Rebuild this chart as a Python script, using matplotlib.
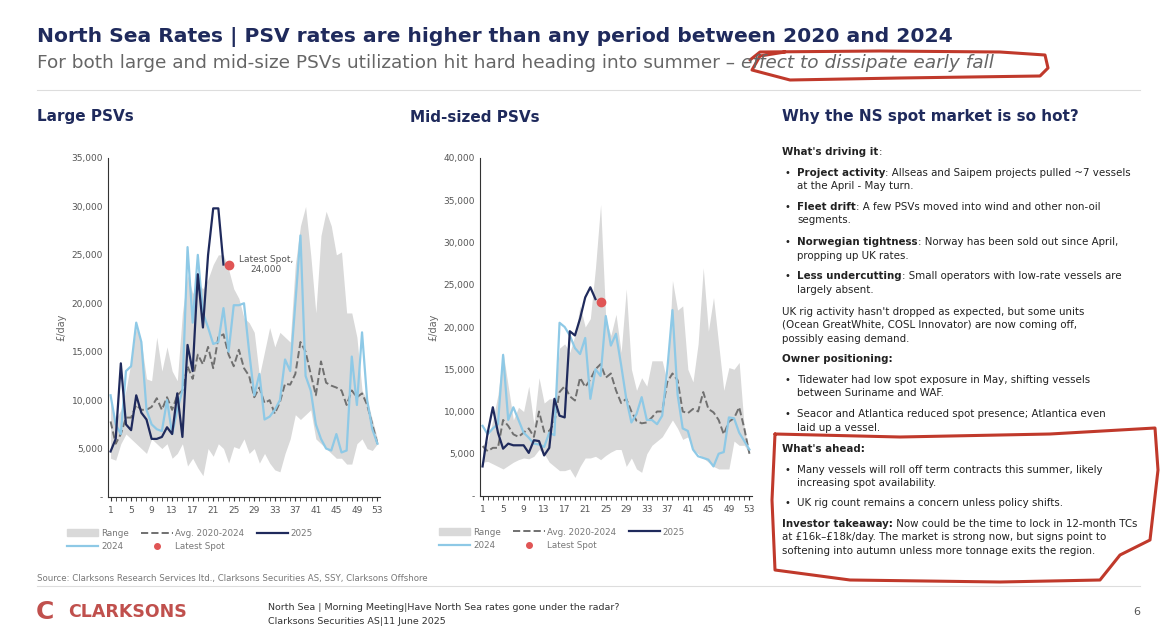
import numpy as np
import matplotlib.pyplot as plt
from matplotlib.lines import Line2D
from matplotlib.patches import Patch

W, H = 1166, 634
NAVY = '#1f2a5c'
LIGHT = '#8ec9e6'
GREY = '#d9d9d9'
RED = '#e05555'
FONT = 'DejaVu Sans'
weeks = np.arange(1, 54)

# Large PSVs
large_high = [10000, 8000, 9000, 11000, 14000, 17500, 16000, 12200, 12000, 16500, 13000, 15500, 13000, 12000,
              19000, 23000, 21000, 22000, 21500, 22500, 24000, 25000, 25000, 23500, 21500, 20500, 18500, 18000,
              17000, 12500, 15000, 17500, 15500, 17000, 16500, 16000, 24000, 28000, 30000, 25000, 19000, 27000,
              29500, 28000, 25000, 25300, 19000, 19000, 16500, 11000, 10000, 8000, 6000]
large_low = [4000, 3800, 5500, 6500, 6000, 5500, 5000, 4500, 6000, 5500, 5000, 5500, 4000, 4500, 5500, 3200,
             4000, 3000, 2200, 5000, 4200, 5500, 5000, 3500, 5200, 5000, 6000, 4500, 5000, 3500, 4500, 3500,
             2800, 2600, 4500, 6000, 8500, 8000, 8500, 9000, 6000, 5500, 5000, 4500, 4000, 4000, 3400, 3400,
             5500, 6000, 5000, 4800, 5500]
large_avg = [7800, 5500, 6500, 8200, 8200, 9500, 9000, 9000, 9300, 10200, 9000, 10300, 9000, 10500, 11000,
             13500, 12200, 14700, 13700, 15500, 13300, 16500, 16800, 14700, 13500, 15200, 13300, 12500, 10300,
             11300, 9700, 10000, 8600, 9800, 11700, 11600, 12700, 16000, 15000, 12700, 10500, 14000, 11800,
             11500, 11300, 11000, 9500, 11000, 10300, 10700, 9500, 7500, 5500]
large_2024 = [10500, 7500, 6500, 13000, 13500, 18000, 16000, 9000, 7500, 7000, 6800, 10000, 6500, 9000, 11000,
              25800, 18000, 25000, 19000, 17500, 15800, 16000, 19500, 15000, 19800, 19800, 20000, 15000, 10500,
              12700, 8000, 8300, 9000, 10000, 14200, 13000, 20000, 27000, 12500, 11000, 7500, 6000, 5000, 4800,
              6500, 4600, 4800, 14500, 9500, 17000, 10000, 7000, 5500]
large_2025 = [4700, 6000, 13800, 7500, 6900, 10500, 8700, 8000, 6000, 6000, 6200, 7200, 6500, 10700, 6200,
              15700, 13000, 23000, 17500, 25000, 29800, 29800, 24000]
large_spot = (24, 24000)

# Mid-sized PSVs
mid_high = [6000, 6500, 9000, 12000, 17000, 13000, 9000, 10500, 10000, 13000, 8500, 14000, 11000, 11500, 11500,
            17500, 18000, 17000, 19000, 22500, 20000, 21000, 27000, 34500, 21000, 19000, 21500, 17000, 24500,
            15000, 12500, 14000, 13000, 16000, 16000, 16000, 13500, 25500, 22000, 22500, 15000, 13500, 18000,
            27000, 19500, 23500, 18000, 12500, 15200, 15000, 15800, 8000, 5000]
mid_low = [4000, 4100, 3800, 3500, 3200, 3600, 4000, 4300, 4500, 4400, 4700, 5500, 5000, 4000, 3500, 3000, 3000,
           3200, 2200, 3500, 4500, 4500, 4700, 4300, 4800, 5200, 5500, 5500, 3500, 4500, 3200, 2800, 5000, 6000,
           6500, 7000, 8000, 9000, 8000, 6700, 7000, 5500, 5000, 4500, 4000, 3500, 3200, 3200, 3200, 6500, 6000,
           6000, 5000]
mid_avg = [5900, 5300, 5700, 5700, 9000, 8300, 7300, 7000, 7500, 8000, 7000, 10000, 7600, 7700, 8700, 12300,
           13000, 11800, 11300, 14000, 12900, 13800, 15000, 15600, 14000, 14500, 12500, 11000, 11500, 10000, 8900,
           8600, 8700, 9300, 10000, 10000, 13500, 14500, 13700, 10000, 9800, 10300, 10000, 12300, 10300, 9900,
           9000, 7300, 8800, 9200, 10500, 8000, 5000]
mid_2024 = [8300, 7300, 8000, 8500, 16700, 9000, 10500, 9000, 7500, 6900, 6200, 6100, 5800, 7500, 7200, 20500,
            20000, 19000, 17500, 16800, 18700, 11500, 15000, 14200, 21300, 17800, 19200, 15500, 11500, 8700, 9700,
            11700, 9000, 9000, 8500, 9500, 15000, 22000, 12000, 8000, 7700, 5500, 4700, 4500, 4300, 3500, 5000,
            5200, 9300, 9200, 7500, 6500, 5500]
mid_2025 = [3500, 7500, 10500, 7500, 5600, 6200, 6000, 6000, 6000, 5100, 6600, 6500, 4800, 5700, 11500, 9500,
            9300, 19500, 19000, 21000, 23500, 24700, 23300]
mid_spot = (24, 23000)


def fx(x):
    return x / W


def fy(y):
    return 1 - y / H


def fmt(v, _):
    return '-' if v == 0 else f'{int(v):,}'


def draw_chart(rect, high, low, avg, y24, y25, spot, ymax, label=None):
    x0, y0, x1, y1 = rect
    ax = fig.add_axes([fx(x0), fy(y1), fx(x1 - x0), (y1 - y0) / H])
    ax.fill_between(weeks, low, high, color=GREY, lw=0)
    ax.plot(weeks, avg, color='#707070', ls='--', lw=1.4)
    ax.plot(weeks, y24, color=LIGHT, lw=1.6)
    ax.plot(weeks[:len(y25)], y25, color=NAVY, lw=1.6)
    ax.plot(*spot, 'o', color=RED, ms=6)
    if label:
        ax.annotate(label, spot, xytext=(27, 0), textcoords='offset points', ha='center', va='center',
                    fontsize=6.5, color='#555555', family=FONT)
    ax.set_xlim(0.5, 53.5)
    ax.set_ylim(0, ymax)
    ax.set_yticks(np.arange(0, ymax + 1, 5000))
    ax.yaxis.set_major_formatter(fmt)
    ax.set_xticks(np.arange(1, 54, 4))
    ax.set_xticks(weeks, minor=True)
    for s in ['top', 'right']:
        ax.spines[s].set_visible(False)
    for s in ['left', 'bottom']:
        ax.spines[s].set_color('#333333')
    ax.tick_params(axis='both', labelsize=6.5, colors='#555555', length=3)
    ax.tick_params(axis='x', which='minor', length=3, color='#333333')
    ax.tick_params(axis='x', which='major', color='#333333')
    ax.tick_params(axis='y', length=0)
    ax.set_ylabel('£/day', fontsize=7, color='#666666')
    range_h = Patch(color=GREY)
    avg_h = Line2D([], [], color='#707070', ls='--', lw=1.4)
    h25 = Line2D([], [], color=NAVY, lw=1.6)
    h24 = Line2D([], [], color=LIGHT, lw=1.6)
    spot_h = Line2D([], [], marker='o', color=RED, ls='', ms=4)
    # column-major order so rows read: Range, Avg, 2025 / 2024, Latest Spot
    handles = [range_h, h24, avg_h, spot_h, h25]
    labels = ['Range', '2024', 'Avg. 2020-2024', 'Latest Spot', '2025']
    ax.legend(handles, labels, ncol=3, loc='upper left', bbox_to_anchor=(-0.18, -0.07), frameon=False,
              fontsize=6.3, labelcolor='#777777', handlelength=3.6, columnspacing=1.4, handletextpad=0.3)
    return ax


plt.rcParams['font.family'] = FONT
fig = plt.figure(figsize=(W / 100, H / 100), dpi=100)
fig.patch.set_facecolor('white')
r = fig.canvas.get_renderer()

fig.text(fx(37), fy(37), 'North Sea Rates | PSV rates are higher than any period between 2020 and 2024',
         fontsize=14.6, weight='bold', color=NAVY, va='center')
sub = fig.text(fx(37), fy(63), 'For both large and mid-size PSVs utilization hit hard heading into summer – ',
               fontsize=13.3, color='#666666', va='center')
bb = sub.get_window_extent(r)
fig.text(bb.x1 / W, fy(63), 'effect to dissipate early fall', fontsize=13.3, color='#666666', va='center',
         style='italic')
fig.add_artist(Line2D([fx(37), fx(1140)], [fy(90), fy(90)], color='#dddddd', lw=0.8))
for x, t in [(37, 'Large PSVs'), (410, 'Mid-sized PSVs'), (782, 'Why the NS spot market is so hot?')]:
    fig.text(fx(x), fy(117), t, fontsize=11, weight='bold', color=NAVY, va='center')

draw_chart((108, 158, 380, 497), large_high, large_low, large_avg, large_2024, large_2025, large_spot, 35000,
           'Latest Spot,\n24,000')
draw_chart((480, 158, 752, 496), mid_high, mid_low, mid_avg, mid_2024, mid_2025, mid_spot, 40000)


def put(x, y, segs, size=7.35):
    for txt, bold in segs:
        t = fig.text(x / W, fy(y), txt, fontsize=size, weight='bold' if bold else 'normal', color='#222222',
                     va='center')
        x = t.get_window_extent(r).x1


lines = [
    (782, 152, [("What's driving it", True), (':', False)]),
    (797, 173, [('Project activity', True), (': Allseas and Saipem projects pulled ~7 vessels', False)]),
    (797, 186, [('at the April - May turn.', False)]),
    (797, 207, [('Fleet drift', True), (': A few PSVs moved into wind and other non-oil', False)]),
    (797, 220, [('segments.', False)]),
    (797, 242, [('Norwegian tightness', True), (': Norway has been sold out since April,', False)]),
    (797, 256, [('propping up UK rates.', False)]),
    (797, 276, [('Less undercutting', True), (': Small operators with low-rate vessels are', False)]),
    (797, 290, [('largely absent.', False)]),
    (782, 312, [("UK rig activity hasn't dropped as expected, but some units", False)]),
    (782, 325, [('(Ocean GreatWhite, COSL Innovator) are now coming off,', False)]),
    (782, 339, [('possibly easing demand.', False)]),
    (782, 359, [('Owner positioning:', True)]),
    (797, 380, [('Tidewater had low spot exposure in May, shifting vessels', False)]),
    (797, 393, [('between Suriname and WAF.', False)]),
    (797, 414, [('Seacor and Atlantica reduced spot presence; Atlantica even', False)]),
    (797, 428, [('laid up a vessel.', False)]),
    (782, 449, [("What's ahead:", True)]),
    (797, 470, [('Many vessels will roll off term contracts this summer, likely', False)]),
    (797, 483, [('increasing spot availability.', False)]),
    (797, 503, [('UK rig count remains a concern unless policy shifts.', False)]),
    (782, 524, [('Investor takeaway:', True), (' Now could be the time to lock in 12-month TCs', False)]),
    (782, 537, [('at £16k–£18k/day. The market is strong now, but signs point to', False)]),
    (782, 551, [('softening into autumn unless more tonnage exits the region.', False)]),
]
for x, y, segs in lines:
    put(x, y, segs)
for y in [173, 207, 242, 276, 380, 414, 470, 503]:
    fig.text(fx(784), fy(y), '•', fontsize=7, color='#222222', va='center')

# hand-drawn red marks
red_kw = dict(color='#c0392b', lw=2.2, solid_capstyle='round')
loop_x = [785, 760, 752, 790, 900, 1040, 1048, 1045, 1000, 880, 760, 750]
loop_y = [52, 56, 70, 80, 78, 76, 68, 55, 52, 51, 52, 60]
fig.add_artist(Line2D([fx(v) for v in loop_x], [fy(v) for v in loop_y], **red_kw))
box_x = [775, 900, 1050, 1155, 1158, 1150, 1120, 1100, 1000, 850, 775, 772, 775]
box_y = [434, 437, 434, 428, 470, 540, 555, 580, 582, 580, 570, 500, 434]
fig.add_artist(Line2D([fx(v) for v in box_x], [fy(v) for v in box_y], **red_kw))

fig.text(fx(37), fy(578), 'Source: Clarksons Research Services ltd., Clarksons Securities AS, SSY, Clarksons Offshore',
         fontsize=6.2, color='#777777', va='center')
fig.add_artist(Line2D([fx(37), fx(1140)], [fy(586), fy(586)], color='#dddddd', lw=0.8))
fig.text(fx(36), fy(612), 'C', fontsize=18, weight='bold', color='#c0504d', va='center')
fig.text(fx(68), fy(612), 'CLARKSONS', fontsize=12.5, weight='bold', color='#c0504d', va='center')
fig.text(fx(268), fy(607), 'North Sea | Morning Meeting|Have North Sea rates gone under the radar?', fontsize=6.8,
         color='#333333', va='center')
fig.text(fx(268), fy(621), 'Clarksons Securities AS|11 June 2025', fontsize=6.8, color='#333333', va='center')
fig.text(fx(1140), fy(612), '6', fontsize=8, color='#555555', va='center', ha='right')

fig.savefig('out.png', dpi=100)
